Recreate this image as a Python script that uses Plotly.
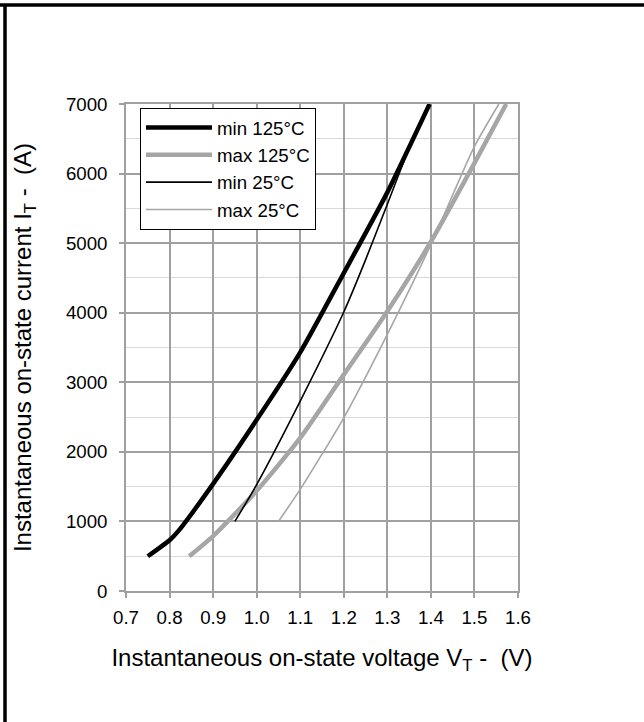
import plotly.graph_objects as go

# Data
vt_min125 = [0.75, 0.80, 0.82, 0.90, 1.00, 1.10, 1.20, 1.30, 1.397]
it_min125 = [500, 730, 860, 1540, 2460, 3430, 4570, 5730, 7000]

vt_max125 = [0.845, 0.90, 1.00, 1.10, 1.20, 1.30, 1.40, 1.50, 1.573]
it_max125 = [500, 790, 1440, 2200, 3110, 4020, 5020, 6150, 7000]

vt_min25 = [0.95, 1.00, 1.10, 1.20, 1.25, 1.30, 1.35, 1.397]
it_min25 = [1000, 1530, 2730, 4010, 4760, 5560, 6360, 7000]

vt_max25 = [1.05, 1.10, 1.20, 1.30, 1.40, 1.50, 1.556]
it_max25 = [1000, 1460, 2490, 3690, 4980, 6390, 7000]

names = ["min 125°C", "max 125°C", "min 25°C", "max 25°C"]

FONT = "Arial, Liberation Sans, sans-serif"
GRAY = "#a0a0a0"

fig = go.Figure()
series = [
    (vt_min125, it_min125, names[0], "#000000", 4.5),
    (vt_max125, it_max125, names[1], "#a6a6a6", 4.5),
    (vt_min25, it_min25, names[2], "#000000", 1.6),
    (vt_max25, it_max25, names[3], "#a6a6a6", 1.6),
]
for x, y, n, c, w in series:
    fig.add_trace(go.Scatter(x=x, y=y, name=n, mode="lines",
                             line=dict(color=c, width=w, shape="spline", smoothing=0.6)))

fig.update_layout(
    width=644, height=722,
    margin=dict(l=126, r=126, t=104, b=131),
    paper_bgcolor="white", plot_bgcolor="white",
    font=dict(family=FONT, size=19, color="black"),
    showlegend=True,
    legend=dict(x=0.0357, y=0.992, xanchor="left", yanchor="top",
                bgcolor="white", bordercolor="black", borderwidth=1,
                itemwidth=66, tracegroupgap=0,
                font=dict(family=FONT, size=18.7, color="black")),
    shapes=[
        dict(type="line", xref="paper", yref="paper",
             x0=-126/392, x1=518/392 + 126/392, y0=(591-5)/487, y1=(591-5)/487,
             line=dict(color="black", width=3.5)),
        dict(type="line", xref="paper", yref="paper",
             x0=-121/392, x1=-121/392, y0=(591-4)/487, y1=-131/487,
             line=dict(color="black", width=3.5)),
    ],
)
fig.update_xaxes(
    range=[0.7, 1.6], dtick=0.1, tick0=0.7, tickformat=".1f",
    showgrid=True, gridcolor=GRAY, gridwidth=1.5,
    showline=True, linecolor=GRAY, linewidth=1.5, mirror=True,
    ticks="outside", ticklen=5, tickcolor=GRAY, tickwidth=1.5,
    ticklabelstandoff=4,
    tickfont=dict(family=FONT, size=18.7, color="black"),
    zeroline=False,
    title=dict(text="Instantaneous on-state voltage V<sub>T</sub> -\u00a0 (V)",
               font=dict(family=FONT, size=24, color="black"), standoff=22),
)
fig.update_yaxes(
    range=[0, 7000], dtick=1000, tick0=0,
    showgrid=True, gridcolor=GRAY, gridwidth=1.5,
    minor=dict(dtick=500, showgrid=True, gridcolor="#d9d9d9", gridwidth=1),
    showline=True, linecolor=GRAY, linewidth=1.5, mirror=True,
    ticks="outside", ticklen=5, tickcolor=GRAY, tickwidth=1.5,
    ticklabelstandoff=8,
    tickfont=dict(family=FONT, size=18.7, color="black"),
    zeroline=False,
    title=dict(text="Instantaneous on-state current I<sub>T</sub> -\u00a0 (A)",
               font=dict(family=FONT, size=24, color="black"), standoff=28),
)

# remove the browser's default 8px page margin so the figure sits at the window origin
fig.write_html("out.html", config={"displayModeBar": False},
               post_script="document.body.style.margin='0';")
